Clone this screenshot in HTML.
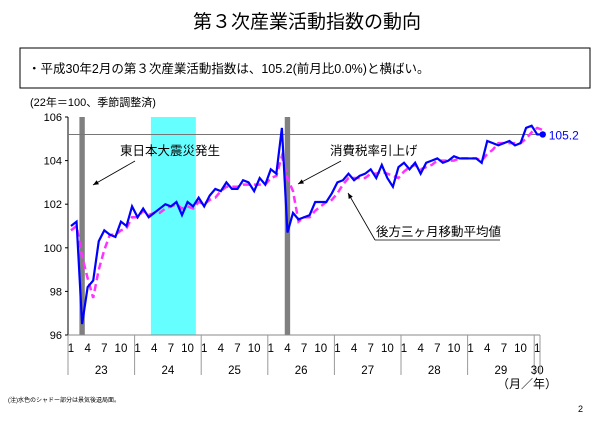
<!DOCTYPE html>
<html><head><meta charset="utf-8"><style>
body{margin:0;width:615px;height:426px;background:#fff;font-family:"Liberation Sans","Noto Sans CJK JP",sans-serif;overflow:hidden}
svg text{font-family:"Liberation Sans","Noto Sans CJK JP",sans-serif}
</style></head><body>
<svg width="615" height="426" xmlns="http://www.w3.org/2000/svg">
<text x="307" y="28" font-size="19" text-anchor="middle">第３次産業活動指数の動向</text>
<rect x="20" y="48" width="570" height="40" fill="#fff" stroke="#000" stroke-width="1"/>
<text x="28" y="73" font-size="12.5">・平成30年2月の第３次産業活動指数は、105.2(前月比0.0%)と横ばい。</text>
<text x="30" y="106" font-size="11">(22年＝100、季節調整済)</text>
<g id="plot"></g>
<text x="497" y="388" font-size="12">（月／年）</text>
<text x="8" y="402" font-size="6">(注)水色のシャドー部分は景気後退局面。</text>
<text x="578" y="412" font-size="9">2</text>
</svg>
<script>
const values=[101.0,101.2,96.5,98.2,98.5,100.3,100.8,100.6,100.5,101.2,101.0,101.9,
101.4,101.8,101.4,101.6,101.8,102.0,101.9,102.1,101.5,102.1,101.9,102.3,
101.9,102.4,102.7,102.6,103.0,102.7,102.7,103.1,103.0,102.6,103.2,102.9,
103.6,103.4,105.5,100.7,101.6,101.3,101.4,101.5,102.1,102.1,102.1,102.5,
103.0,103.1,103.4,103.1,103.3,103.4,103.6,103.2,103.8,103.2,102.8,103.7,
103.9,103.6,103.9,103.4,103.9,104.0,104.1,103.9,104.0,104.2,104.1,104.1,
104.1,104.1,103.9,104.9,104.8,104.7,104.8,104.9,104.7,104.8,105.5,105.6,
105.2,105.2];
const movingAvg=[100.8,101.0,99.6,98.6,97.7,99.0,99.9,100.6,100.6,100.8,100.9,101.4,
101.4,101.7,101.5,101.6,101.6,101.8,101.9,102.0,101.8,101.9,101.8,102.1,
102.0,102.2,102.3,102.6,102.8,102.8,102.8,102.9,102.9,102.9,102.9,102.9,
103.2,103.3,104.2,103.2,102.6,101.2,101.4,101.4,101.7,101.9,102.1,102.2,
102.5,102.9,103.2,103.2,103.2,103.2,103.4,103.4,103.5,103.4,103.3,103.2,
103.5,103.7,103.8,103.6,103.7,103.8,104.0,104.0,104.0,104.0,104.1,104.1,
104.1,104.1,104.0,104.3,104.5,104.8,104.8,104.8,104.8,104.8,105.0,105.3,
105.5,105.4];
const yTicks=[96,98,100,102,104,106];
const yearLabels=["23","24","25","26","27","28","29","30"];
const monthLabels=["1","4","7","10"];
const grayShades=[2,39];
const recession=[14.4,22.5];
const latestLabel="105.2";

const NS="http://www.w3.org/2000/svg";
const g=document.getElementById('plot');
const X0=68,Xend=540,Ytop=117,Ybot=335,MW=5.55;
const x=i=>71+i*MW;
const y=v=>Ytop+(106-v)*(Ybot-Ytop)/10;
function mk(t,a,p){const e=document.createElementNS(NS,t);for(const k in a)e.setAttribute(k,a[k]);(p||g).appendChild(e);return e;}

let e=mk('rect',{x:x(recession[0]),y:Ytop,width:x(recession[1])-x(recession[0]),height:Ybot-Ytop,fill:'#66ffff'});


grayShades.forEach(i=>{const r=mk('rect',{x:x(i)-2.7,y:Ytop,width:5.4,height:Ybot-Ytop,fill:'#808080'});

});

e=mk('line',{x1:X0,y1:Ytop,x2:X0,y2:Ybot,stroke:'#000','stroke-width':1});


e=mk('line',{x1:X0,y1:Ybot,x2:Xend,y2:Ybot,stroke:'#888','stroke-width':1});


yTicks.forEach(v=>{mk('line',{x1:X0-3,y1:y(v),x2:X0,y2:y(v),stroke:'#000'});
const t=mk('text',{x:X0-6,y:y(v)+4,'font-size':11,'text-anchor':'end'});t.textContent=v;

});

e=mk('line',{x1:X0,y1:y(105.2),x2:Xend,y2:y(105.2),stroke:'#777','stroke-width':1});



yearLabels.forEach((yl,k)=>{const bx=X0+k*12*MW;
mk('line',{x1:bx,y1:Ybot,x2:bx,y2:Ybot+40,stroke:'#999'});
const months=k<7?monthLabels:["1"];
months.forEach((m,j)=>{const t=mk('text',{x:x(k*12+j*3),y:Ybot+17,'font-size':11.5,'text-anchor':'middle'});t.textContent=m;

});
const cx=k<7?bx+6*MW:bx+3;
const t=mk('text',{x:cx,y:Ybot+39,'font-size':11.5,'text-anchor':'middle'});t.textContent=yl;

});
mk('line',{x1:Xend,y1:Ybot,x2:Xend,y2:Ybot+40,stroke:'#999'});

e=mk('polyline',{points:movingAvg.map((v,i)=>x(i)+','+y(v)).join(' '),fill:'none',stroke:'#ff33ff','stroke-width':2.5,'stroke-dasharray':'7,4'});


e=mk('polyline',{points:values.map((v,i)=>x(i)+','+y(v)).join(' '),fill:'none',stroke:'#0000ff','stroke-width':2.2});


const li=values.length-1;
e=mk('circle',{cx:x(li),cy:y(values[li]),r:3.2,fill:'#0000ff'});


e=mk('text',{x:x(li)+6,y:y(values[li])+5,'font-size':12,fill:'#0000ff'});e.textContent=latestLabel;



function ann(txt,tx,ty,x1,y1,x2,y2,name){const t=mk('text',{x:tx,y:ty,'font-size':12.5});t.textContent=txt;


mk('line',{x1:x1,y1:y1,x2:x2,y2:y2,stroke:'#000','stroke-width':0.8});
const a=Math.atan2(y2-y1,x2-x1),L=6;
mk('polygon',{points:`${x2},${y2} ${x2-L*Math.cos(a-0.4)},${y2-L*Math.sin(a-0.4)} ${x2-L*Math.cos(a+0.4)},${y2-L*Math.sin(a+0.4)}`,fill:'#000'});}
ann('東日本大震災発生',120,155,135,161,93,185,'annotation-earthquake');
ann('消費税率引上げ',330,155,341,161,298,184,'annotation-tax');
ann('後方三ヶ月移動平均値',376,236,375,240,348,193,'annotation-moving-average');
mk('line',{x1:375,y1:240,x2:500,y2:240,stroke:'#000','stroke-width':0.8});
</script>
</body></html>
